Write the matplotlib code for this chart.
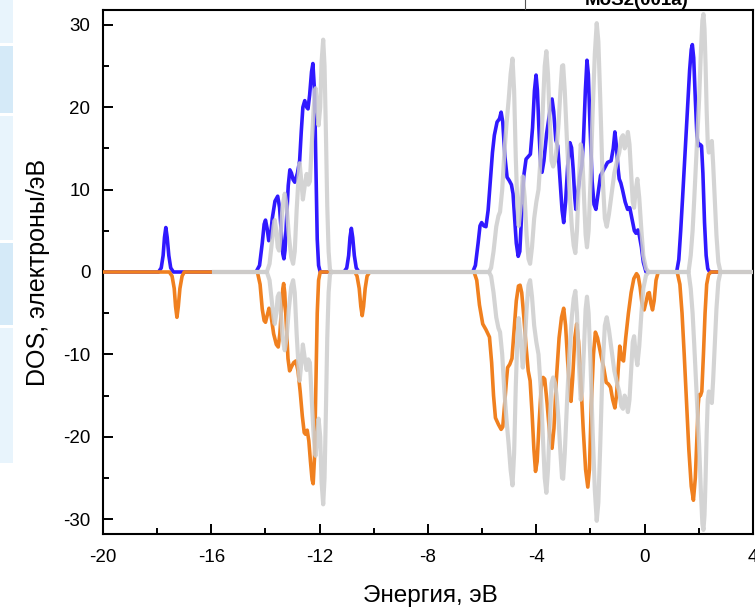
#!/usr/bin/env python3
"""DOS plot: spin up / spin down of the doped slab vs. MoS2(001a) reference (grey)."""

import matplotlib

matplotlib.use("Agg")
import matplotlib.pyplot as plt
from matplotlib.lines import Line2D
from matplotlib.patches import Rectangle
from matplotlib.ticker import MultipleLocator

plt.rcParams["font.family"] = ["Liberation Sans", "DejaVu Sans"]
plt.rcParams["axes.unicode_minus"] = False

# ---- data (energy in eV, DOS in states/eV) ----
blue_e = [
    -20.0, -17.95, -17.85, -17.78, -17.73, -17.68, -17.63, -17.57, -17.50, -17.40,
    -14.35, -14.22, -14.12, -14.05, -14.00, -13.94, -13.88, -13.82, -13.75, -13.65,
    -13.55, -13.48, -13.42, -13.36, -13.32, -13.28, -13.22, -13.16, -13.10, -13.04,
    -12.98, -12.92, -12.82, -12.74, -12.68, -12.62, -12.55, -12.48, -12.43, -12.37,
    -12.30, -12.25, -12.19, -12.14, -12.09, -12.04, -11.98,
    -11.10, -11.00, -10.93, -10.88, -10.83, -10.78, -10.72, -10.65, -10.55,
    -6.35, -6.25, -6.15, -6.08, -6.02, -5.94, -5.86, -5.78, -5.70, -5.62,
    -5.55, -5.45, -5.36, -5.30, -5.24, -5.16, -5.08, -5.00, -4.92, -4.86,
    -4.80, -4.74, -4.67, -4.61, -4.55, -4.47, -4.38, -4.30, -4.22, -4.14,
    -4.07, -4.01, -3.96, -3.90, -3.84, -3.79, -3.72, -3.62, -3.50, -3.42,
    -3.36, -3.28, -3.21, -3.12, -3.05, -2.99, -2.92, -2.84, -2.76, -2.70,
    -2.64, -2.58, -2.54, -2.47, -2.40, -2.32, -2.26, -2.19, -2.13, -2.08,
    -2.02, -1.94, -1.87, -1.80, -1.72, -1.63, -1.50, -1.37, -1.24, -1.16,
    -1.10, -1.05, -0.98, -0.94, -0.88, -0.82, -0.72, -0.63, -0.55, -0.47,
    -0.38, -0.32, -0.25, -0.20, -0.12, -0.05, 0.05,
    1.18, 1.26, 1.33, 1.40, 1.50, 1.58, 1.66, 1.72, 1.76, 1.81,
    1.87, 1.93, 1.98, 2.04, 2.10, 2.15, 2.21, 2.27, 2.33, 2.40, 4.0,
]
blue_dos = [
    0.0, 0.0, 0.5, 2.0, 4.2, 5.4, 4.2, 2.0, 0.5, 0.0,
    0.0, 0.8, 3.5, 5.8, 6.3, 5.3, 3.8, 4.2, 6.5, 8.6,
    9.2, 7.8, 5.0, 2.2, 1.6, 2.6, 6.5, 10.5, 12.4, 12.0,
    11.2, 10.9, 12.0, 13.5, 17.0, 20.0, 20.8, 20.0, 19.8, 21.5,
    24.3, 25.3, 22.0, 13.0, 4.0, 0.8, 0.0,
    0.0, 0.5, 2.0, 4.2, 5.3, 4.2, 2.0, 0.5, 0.0,
    0.0, 0.8, 3.5, 5.6, 6.0, 5.6, 5.5, 7.5, 11.0, 14.5,
    16.6, 18.2, 18.6, 19.4, 18.2, 14.0, 11.5, 11.1, 10.6, 9.5,
    6.5, 3.5, 1.9, 2.5, 6.5, 11.5, 13.7, 14.0, 14.3, 17.5,
    22.0, 23.9, 22.0, 17.0, 13.0, 12.1, 13.5, 16.8, 19.5, 21.0,
    19.5, 16.0, 15.3, 11.0, 7.5, 6.0, 8.5, 13.0, 15.7, 15.1,
    12.5, 9.0, 7.6, 9.5, 11.5, 12.9, 16.0, 22.0, 25.7, 24.0,
    18.0, 11.0, 8.2, 7.6, 9.5, 11.7, 12.5, 13.3, 13.5, 15.0,
    17.0, 15.5, 12.5, 11.3, 10.8, 10.0, 8.5, 7.6, 7.8, 6.5,
    5.0, 4.7, 5.1, 4.5, 3.0, 1.2, 0.0,
    0.0, 1.5, 5.0, 9.0, 15.0, 19.8, 24.5, 27.0, 27.6, 26.0,
    21.0, 16.5, 15.3, 15.5, 15.3, 12.0, 6.0, 2.0, 0.4, 0.0, 0.0,
]

orange_e = [
    -20.0, -17.55, -17.45, -17.37, -17.32, -17.27, -17.22, -17.16, -17.08, -17.00,
    -14.30, -14.20, -14.12, -14.05, -14.00, -13.94, -13.87, -13.80, -13.70, -13.60,
    -13.53, -13.47, -13.41, -13.36, -13.33, -13.29, -13.23, -13.17, -13.11, -13.04,
    -12.96, -12.88, -12.80, -12.72, -12.64, -12.57, -12.52, -12.46, -12.40, -12.34,
    -12.28, -12.24, -12.19, -12.14, -12.09, -12.04, -11.98,
    -10.70, -10.62, -10.54, -10.48, -10.43, -10.38, -10.32, -10.25, -10.15,
    -6.30, -6.20, -6.10, -5.98, -5.86, -5.73, -5.65, -5.58, -5.51, -5.40,
    -5.30, -5.24, -5.17, -5.10, -5.06, -4.98, -4.90, -4.82, -4.74, -4.66,
    -4.60, -4.54, -4.46, -4.38, -4.30, -4.23, -4.16, -4.09, -4.03, -3.97,
    -3.90, -3.82, -3.75, -3.69, -3.60, -3.50, -3.42, -3.35, -3.26, -3.16,
    -3.07, -2.99, -2.92, -2.84, -2.76, -2.72, -2.66, -2.58, -2.51, -2.44,
    -2.36, -2.27, -2.18, -2.10, -2.04, -1.97, -1.89, -1.82, -1.74, -1.62,
    -1.52, -1.42, -1.34, -1.26, -1.18, -1.10, -1.04, -0.98, -0.92, -0.86,
    -0.78, -0.70, -0.60, -0.50, -0.40, -0.30, -0.24, -0.17, -0.10, -0.02,
    0.06, 0.12, 0.17, 0.23, 0.29, 0.35, 0.42, 0.50,
    1.20, 1.30, 1.38, 1.46, 1.55, 1.63, 1.72, 1.80, 1.87, 1.93,
    1.98, 2.01, 2.06, 2.11, 2.17, 2.23, 2.29, 2.36, 2.45, 4.0,
]
orange_dos = [
    0.0, 0.0, -0.5, -2.0, -4.2, -5.5, -4.2, -2.0, -0.5, 0.0,
    0.0, -1.5, -4.5, -5.9, -6.1, -5.3, -4.4, -5.2, -7.5, -8.8,
    -9.1, -7.5, -4.5, -2.0, -1.4, -2.5, -6.5, -10.5, -12.0, -11.5,
    -11.0, -10.8, -12.0, -14.5, -17.5, -19.5, -19.7, -19.2, -20.5, -23.0,
    -25.2, -25.7, -22.5, -14.0, -5.0, -1.0, 0.0,
    0.0, -0.5, -2.0, -4.2, -5.3, -4.2, -2.0, -0.5, 0.0,
    0.0, -1.0, -4.0, -6.3, -7.0, -7.9, -11.0, -15.0, -17.7, -18.5,
    -19.1, -18.8, -16.0, -13.0, -11.6, -11.2, -10.5, -7.0, -3.5, -1.7,
    -1.6, -2.5, -5.5, -9.0, -12.0, -13.2, -17.0, -21.5, -24.2, -23.0,
    -18.5, -14.0, -12.8, -13.0, -16.0, -20.0, -21.4, -19.0, -13.0, -8.0,
    -5.5, -4.4, -6.5, -11.0, -14.5, -15.7, -13.0, -8.0, -6.3, -8.5,
    -13.0, -19.0, -24.0, -26.1, -24.0, -16.0, -10.0, -7.3, -8.0, -10.0,
    -11.5, -13.4, -13.6, -14.0, -15.5, -16.5, -15.0, -12.0, -9.0, -10.5,
    -10.8, -8.0, -5.0, -2.5, -0.8, -0.2, -0.5, -1.8, -3.8, -4.6,
    -3.5, -2.6, -2.5, -3.8, -4.6, -3.5, -1.0, 0.0,
    0.0, -1.5, -5.0, -10.0, -16.0, -21.5, -26.0, -27.7, -25.0, -20.0,
    -16.0, -14.9, -15.0, -14.5, -10.0, -5.0, -1.5, -0.3, 0.0, 0.0,
]

# MoS2(001a) reference, non-magnetic: the spin-down branch is the mirror image
grey_e = [
    -15.90, -13.95, -13.85, -13.77, -13.70, -13.66, -13.60, -13.55, -13.50, -13.44,
    -13.37, -13.29, -13.22, -13.14, -13.05, -12.98, -12.92, -12.85, -12.78, -12.74,
    -12.69, -12.62, -12.55, -12.48, -12.42, -12.36, -12.30, -12.22, -12.15, -12.10,
    -12.04, -11.98, -11.93, -11.87, -11.82, -11.77, -11.72, -11.67, -11.62, -11.55,
    -5.75, -5.67, -5.58, -5.48, -5.40, -5.34, -5.26, -5.18, -5.10, -5.02,
    -4.95, -4.88, -4.82, -4.76, -4.70, -4.65, -4.58, -4.50, -4.43, -4.36,
    -4.29, -4.23, -4.16, -4.08, -4.00, -3.92, -3.84, -3.76, -3.69, -3.63,
    -3.57, -3.50, -3.44, -3.38, -3.31, -3.25, -3.18, -3.11, -3.05, -3.01,
    -2.95, -2.87, -2.78, -2.69, -2.62, -2.56, -2.50, -2.43, -2.36, -2.31,
    -2.24, -2.18, -2.13, -2.07, -2.00, -1.92, -1.84, -1.77, -1.71, -1.64,
    -1.56, -1.47, -1.40, -1.32, -1.22, -1.12, -1.02, -0.94, -0.86, -0.80,
    -0.74, -0.68, -0.62, -0.56, -0.50, -0.44, -0.39, -0.33, -0.27, -0.20,
    -0.12, -0.05, 0.05, 0.15,
    1.62, 1.70, 1.77, 1.83, 1.92, 2.01, 2.08, 2.13, 2.17, 2.21,
    2.25, 2.29, 2.33, 2.37, 2.42, 2.48, 2.53, 2.59, 2.65, 2.72, 2.80, 4.0,
]
grey_dos = [
    0.0, 0.0, 1.0, 3.5, 5.6, 6.3, 5.0, 3.0, 2.6, 4.5,
    8.0, 9.5, 8.0, 4.5, 1.8, 1.0, 2.5, 7.5, 11.5, 13.2,
    11.5, 8.8, 10.5, 11.9, 10.6, 11.0, 15.0, 20.0, 22.3, 20.5,
    17.8, 20.0, 25.5, 28.2, 25.0, 17.0, 8.0, 2.5, 0.3, 0.0,
    0.0, 0.5, 2.5, 5.5, 6.8, 7.3, 10.0, 14.5, 18.0, 21.0,
    24.0, 25.9, 22.0, 14.0, 8.0, 5.6, 8.0, 11.6, 9.0, 4.5,
    1.6, 1.0, 3.0, 6.5, 8.5, 10.0, 14.0, 20.0, 25.0, 26.8,
    24.0, 18.0, 13.5, 12.8, 13.5, 15.0, 18.0, 22.0, 25.0, 25.1,
    22.0, 16.0, 10.0, 5.5, 3.2, 2.3, 5.0, 11.0, 15.5, 14.5,
    9.0, 4.5, 3.0, 5.0, 11.0, 19.5, 26.5, 30.2, 28.0, 21.0,
    12.0, 6.5, 5.5, 7.0, 9.5, 12.0, 13.5, 14.5, 16.3, 16.6,
    15.0, 15.5, 17.0, 15.5, 12.0, 8.5, 7.8, 10.0, 11.3, 9.0,
    5.0, 2.0, 0.4, 0.0,
    0.0, 2.0, 5.0, 8.8, 15.0, 21.0, 27.0, 30.5, 31.3, 29.5,
    25.0, 19.5, 15.5, 14.5, 15.2, 15.9, 13.0, 8.8, 4.5, 1.2, 0.0, 0.0,
]

x_ticks = [-20, -16, -12, -8, -4, 0, 4]
y_ticks = [-30, -20, -10, 0, 10, 20, 30]

BLUE = "#3019FF"
ORANGE = "#F0801F"
GREY = "#CDCDCD"

W, H = 755, 610


def main() -> int:
    fig = plt.figure(figsize=(W / 100, H / 100), dpi=100)
    ax = fig.add_axes([103 / W, 1 - 534 / H, 650 / W, 524 / H])

    ax.plot(blue_e, blue_dos, color=BLUE, lw=2.6, solid_joinstyle="round", zorder=2)
    ax.plot(orange_e, orange_dos, color=ORANGE, lw=2.6, solid_joinstyle="round", zorder=3)
    ax.plot(grey_e, grey_dos, color=GREY, lw=3.0, alpha=0.85, solid_joinstyle="round", zorder=4)
    ax.plot(grey_e, [-v for v in grey_dos], color=GREY, lw=3.0, alpha=0.85,
            solid_joinstyle="round", zorder=4)

    ax.set_xlim(-20, 4)
    ax.set_ylim(-31.8, 31.8)
    ax.set_xticks(x_ticks)
    ax.set_yticks(y_ticks)
    ax.xaxis.set_minor_locator(MultipleLocator(2))
    ax.yaxis.set_minor_locator(MultipleLocator(5))
    ax.tick_params(which="both", direction="in", width=1.4, labelsize=13.5)
    ax.tick_params(which="major", length=7)
    ax.tick_params(which="minor", length=4.5)
    ax.tick_params(axis="x", pad=11)
    ax.tick_params(axis="y", pad=9)
    for s in ax.spines.values():
        s.set_linewidth(1.5)

    ax.set_xlabel("Энергия, эВ", fontsize=17.5)
    ax.xaxis.set_label_coords((430 - 103) / 650, -(596 - 534) / 524)
    ax.set_ylabel("DOS, электроны/эВ", fontsize=18)
    ax.yaxis.set_label_coords((38 - 103) / 650, 0.5)
    ax.xaxis.label.set_va("center")
    ax.yaxis.label.set_va("center")

    # left-hand strip of the screenshot (table cells cut off by the crop)
    cells = [(0, 43, "#E8F4FC"), (46, 113, "#D5EAF8"), (116, 240, "#E8F4FC"),
             (243, 325, "#D5EAF8"), (328, 463, "#E8F4FC")]
    for top, bot, col in cells:
        fig.add_artist(Rectangle((0, 1 - bot / H), 13 / W, (bot - top) / H,
                                 transform=fig.transFigure, color=col, lw=0))

    # header cell above the plot, mostly cut off
    fig.add_artist(Line2D([525 / W, 525 / W], [1, 1 - 9 / H], transform=fig.transFigure,
                          color="#555555", lw=0.8))
    fig.text(637 / W, 1 - 5 / H, "MoS2(001a)", ha="center", va="baseline",
             fontsize=13.5, fontweight="bold")

    fig.savefig("out.png", dpi=100)
    plt.close(fig)
    return 0


if __name__ == "__main__":
    raise SystemExit(main())
